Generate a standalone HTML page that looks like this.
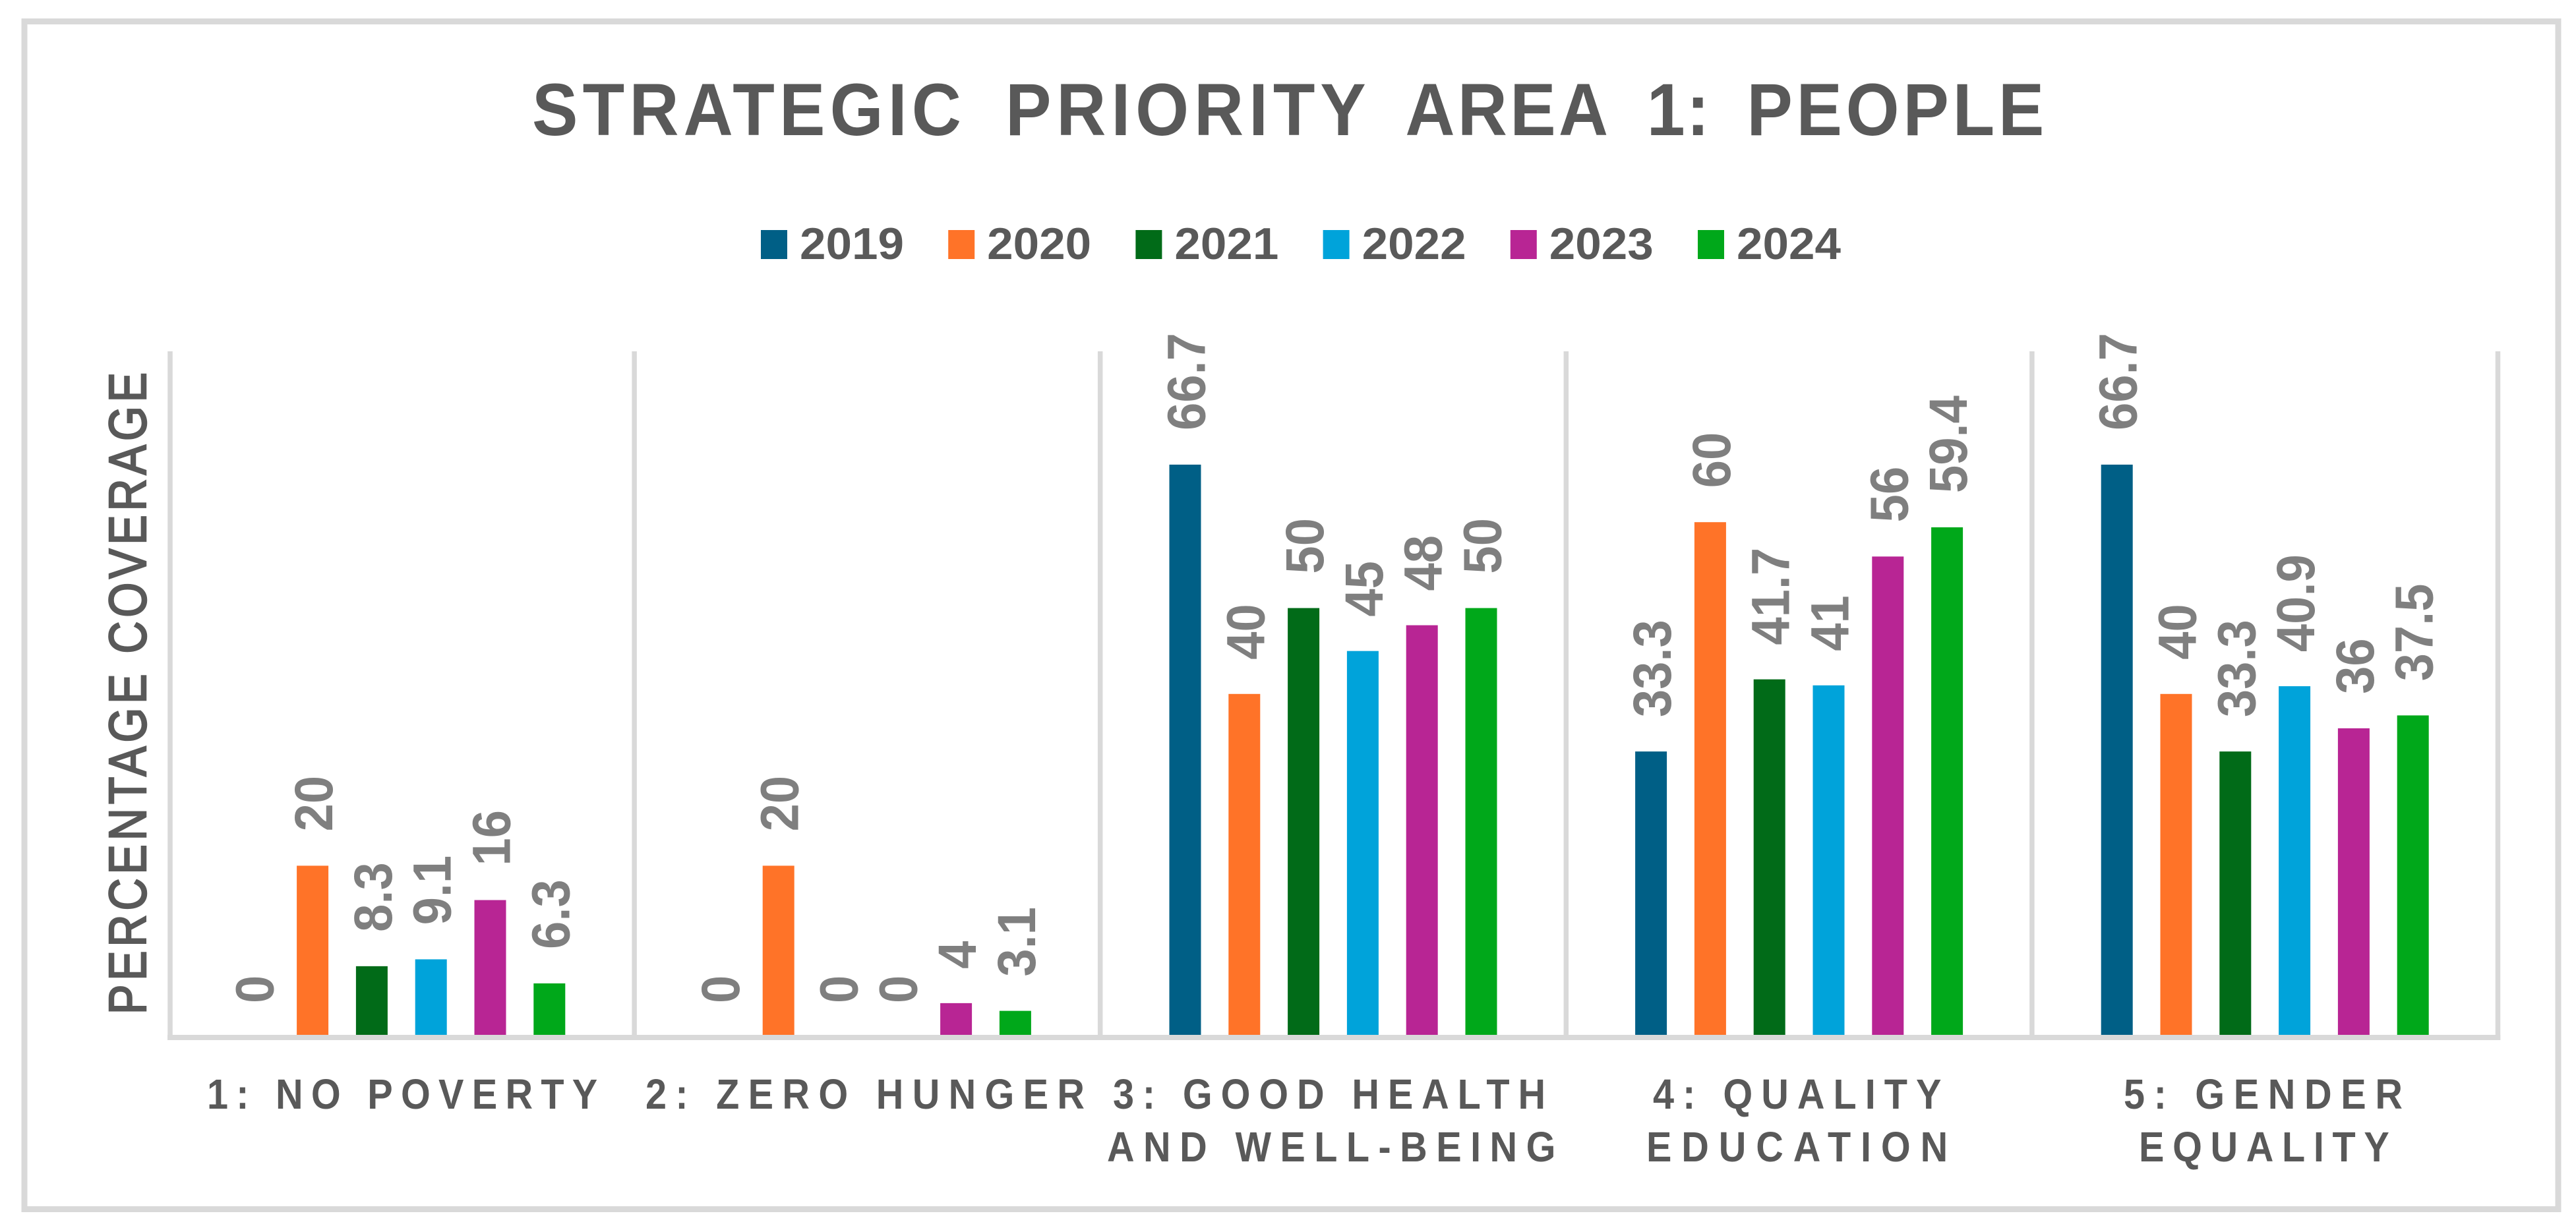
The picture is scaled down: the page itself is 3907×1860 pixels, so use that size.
<!DOCTYPE html>
<html lang="en">
<head>
<meta charset="utf-8">
<title>Strategic Priority Area 1: People</title>
<style>
  html, body { margin: 0; padding: 0; background: #fff; }
  svg { display: block; font-family: "Liberation Sans", Arial, sans-serif; }
</style>
</head>
<body>
<svg id="chart" width="3907" height="1860" viewBox="0 0 3907 1860" xmlns="http://www.w3.org/2000/svg">
  <rect x="0" y="0" width="3907" height="1860" fill="#ffffff"/>
  <rect x="37" y="32.5" width="3843" height="1802" fill="none" stroke="#d9d9d9" stroke-width="9"/>
  <text transform="translate(807,205) scale(0.93,1)" x="0" y="0" font-size="112" font-weight="700" fill="#595959"><tspan x="0" textLength="700" lengthAdjust="spacing">STRATEGIC</tspan> <tspan x="772" textLength="588" lengthAdjust="spacing">PRIORITY</tspan> <tspan x="1424" textLength="331" lengthAdjust="spacing">AREA</tspan> <tspan x="1818" textLength="102" lengthAdjust="spacing">1:</tspan> <tspan x="1981" textLength="485" lengthAdjust="spacing">PEOPLE</tspan></text>

  <g id="legend"></g>
  <g id="gridlines"></g>
  <g id="bars"></g>
  <g id="labels"></g>

  <text transform="translate(221,1539) rotate(-90) scale(0.85,1)" x="0" y="0" font-size="80" font-weight="400" fill="#595959" stroke="#595959" stroke-width="2.5" textLength="1146" lengthAdjust="spacing">PERCENTAGE COVERAGE</text>

  <g font-size="64" font-weight="700" fill="#595959">
    <text transform="translate(314,1682) scale(0.9,1)" x="0" y="0" textLength="658" lengthAdjust="spacing">1: NO POVERTY</text>
    <text transform="translate(979,1682) scale(0.9,1)" x="0" y="0" textLength="740" lengthAdjust="spacing">2: ZERO HUNGER</text>
    <text transform="translate(1688,1682) scale(0.9,1)" x="0" y="0" textLength="729" lengthAdjust="spacing">3: GOOD HEALTH</text>
    <text transform="translate(1679,1762) scale(0.9,1)" x="0" y="0" textLength="756" lengthAdjust="spacing">AND WELL-BEING</text>
    <text transform="translate(2507,1682) scale(0.9,1)" x="0" y="0" textLength="486" lengthAdjust="spacing">4: QUALITY</text>
    <text transform="translate(2497,1762) scale(0.9,1)" x="0" y="0" textLength="508" lengthAdjust="spacing">EDUCATION</text>
    <text transform="translate(3221,1682) scale(0.9,1)" x="0" y="0" textLength="470" lengthAdjust="spacing">5: GENDER</text>
    <text transform="translate(3244,1762) scale(0.9,1)" x="0" y="0" textLength="422" lengthAdjust="spacing">EQUALITY</text>
  </g>
</svg>

<script>
// Chart data
const categories = ["1: NO POVERTY", "2: ZERO HUNGER", "3: GOOD HEALTH AND WELL-BEING", "4: QUALITY EDUCATION", "5: GENDER EQUALITY"];
const years = ["2019", "2020", "2021", "2022", "2023", "2024"];
const values2019 = [0, 0, 66.7, 33.3, 66.7];
const values2020 = [20, 20, 40, 60, 40];
const values2021 = [8.3, 0, 50, 41.7, 33.3];
const values2022 = [9.1, 0, 45, 41, 40.9];
const values2023 = [16, 4, 48, 56, 36];
const values2024 = [6.3, 3.1, 50, 59.4, 37.5];
const seriesColors = ["#005f86", "#ff7328", "#016b18", "#00a3da", "#b82594", "#00a81a"];

const allSeries = [values2019, values2020, values2021, values2022, values2023, values2024];
const SVG_NS = "http://www.w3.org/2000/svg";

// Axis functions
const plotLeft = 255.5, categoryStep = 706.6, seriesStep = 89.8, barWidth = 48;
const baselineY = 1574, unitHeight = 13.03;
function yScale(v) { return baselineY - v * unitHeight; }
function categoryCenter(c) { return plotLeft + (c + 0.5) * categoryStep; }
function barCenter(c, s) { return categoryCenter(c) + (s - (years.length - 1) / 2) * seriesStep; }

function make(tag, attrs) {
  const el = document.createElementNS(SVG_NS, tag);
  for (const k in attrs) el.setAttribute(k, attrs[k]);
  return el;
}

// Separators and baseline
const gridGroup = document.getElementById("gridlines");
for (let i = 0; i <= categories.length; i++) {
  const x = plotLeft + i * categoryStep + (i === 0 ? 2.5 : 0);
  const line = make("rect", { x: x - 3.75, y: 533, width: 7.5, height: baselineY + 4 - 533, fill: "#d9d9d9" });
  
  
  gridGroup.appendChild(line);
}
const baseLine = make("rect", { x: 254, y: baselineY - 4, width: plotLeft + categories.length * categoryStep + 3.75 - 254, height: 8, fill: "#d9d9d9" });


gridGroup.appendChild(baseLine);

// Bars and data labels
const barGroup = document.getElementById("bars");
const labelGroup = document.getElementById("labels");
allSeries.forEach(function (series, s) {
  series.forEach(function (v, c) {
    const cx = barCenter(c, s);
    const top = yScale(v);
    if (v > 0) {
      const bar = make("rect", { x: cx - barWidth / 2, y: top, width: barWidth, height: baselineY - 4 - top, fill: seriesColors[s] });
      
      
      barGroup.appendChild(bar);
    }
    const tx = cx + 30;
    const ty = top - 52;
    const label = make("text", { transform: "translate(" + tx + "," + ty + ") rotate(-90) scale(1,1.07)", "font-size": 76, "font-weight": 700, fill: "#7f7f7f" });
    
    
    label.textContent = String(v);
    labelGroup.appendChild(label);
  });
});

// Legend
const legendGroup = document.getElementById("legend");
const legendLeft = 1154, legendStep = 284.2;
years.forEach(function (year, s) {
  const x = legendLeft + s * legendStep;
  const swatch = make("rect", { x: x, y: 349, width: 40, height: 44, fill: seriesColors[s] });
  
  
  legendGroup.appendChild(swatch);
  const text = make("text", { x: x + 59, y: 393, "font-size": 68, "font-weight": 700, fill: "#595959", textLength: 158, lengthAdjust: "spacingAndGlyphs" });
  
  
  text.textContent = year;
  legendGroup.appendChild(text);
});
</script>
</body>
</html>
